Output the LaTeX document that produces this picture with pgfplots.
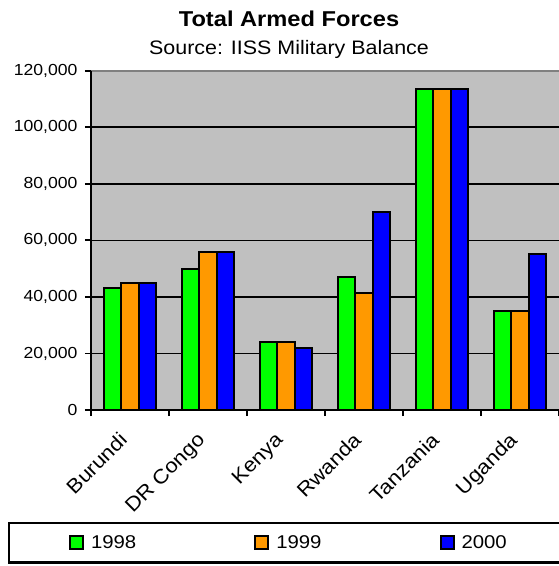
\documentclass[border=0pt]{standalone}
\usepackage{fontspec}
\setmainfont{Liberation Sans}[FakeStretch=1.1]
\usepackage{pgfplots}
\usepackage{pgfplotstable}
\pgfplotsset{compat=1.18}

\definecolor{barA}{HTML}{00FF00}
\definecolor{barB}{HTML}{FF9900}
\definecolor{barC}{HTML}{0000FF}
\definecolor{plotbg}{HTML}{C0C0C0}
\definecolor{framegray}{HTML}{808080}

% Total armed forces by country: columns are 1998, 1999, 2000
\pgfplotstableread{
x  a       b       c
0  43000   45000   45000
1  50000   56000   56000
2  24000   24000   22000
3  47000   41500   70000
4  113500  113500  113500
5  35000   35000   55000
}\forces

\begin{document}
\begin{tikzpicture}[x=1pt,y=1pt]
\path[use as bounding box] (0,0) rectangle (559,566);
\node[anchor=base, font=\fontsize{21.5}{26}\selectfont\bfseries] at (289,539.3) {Total Armed Forces};
\node[anchor=base, font=\fontsize{19.5}{23}\selectfont] at (289,511) {Source: IISS Military Balance};
\begin{axis}[
  at={(91pt,156pt)}, anchor=south west,
  scale only axis, width=468pt, height=339.3pt,
  xmin=-0.5, xmax=5.5, ymin=0, ymax=120000,
  clip=false,
  axis background/.style={fill=plotbg},
  axis line style={draw=none},
  tick align=outside, tick pos=left,
  major tick length=6pt,
  tick style={black, line width=1.8pt},
  xtick={-0.5,0.5,...,5.5},
  x tick label as interval,
  xticklabels={Burundi, DR Congo, Kenya, Rwanda, Tanzania, Uganda},
  xticklabel style={xshift=-12pt, yshift=-15pt, rotate=45, anchor=north east,
    inner sep=0pt, font=\fontsize{20}{24}\selectfont},
  ytick={0,20000,...,120000},
  scaled y ticks=false,
  yticklabel style={/pgf/number format/.cd, fixed, 1000 sep={,}, assume math mode=true,
    /tikz/.cd, xshift=-4pt, font=\fontsize{16}{19}\selectfont},
  ymajorgrids,
  grid style={black, line width=1.6pt},
  ybar=0pt, bar width=17.3pt,
  every axis plot/.append style={draw=black, line width=2pt},
  area legend,
  legend image code/.code={\draw[#1] (0pt,-6.5pt) rectangle (13pt,6.5pt);},
  legend columns=3,
  legend style={at={(-0.1752,-0.3322)}, anchor=north west,
    draw=black, line width=2.2pt, outer sep=0pt,
    inner xsep=60pt, inner ysep=12.4pt,
    font=\fontsize{18.5}{22}\selectfont,
    nodes={inner sep=0pt},
    /tikz/every odd column/.append style={column sep=7pt},
    /tikz/every even column/.append style={column sep=118pt}},
]
\addplot[fill=barA] table[x=x, y=a] {\forces};
\addplot[fill=barB] table[x=x, y=b] {\forces};
\addplot[fill=barC] table[x=x, y=c] {\forces};
\legend{1998,1999,2000}
\draw[framegray, line width=2pt] (rel axis cs:0,1) -- (rel axis cs:1,1);
\draw[black, line width=2pt] (rel axis cs:0,0) -- (rel axis cs:0,1);
\draw[black, line width=2pt] (rel axis cs:0,0) -- (rel axis cs:1,0);
\end{axis}
\end{tikzpicture}
\end{document}
